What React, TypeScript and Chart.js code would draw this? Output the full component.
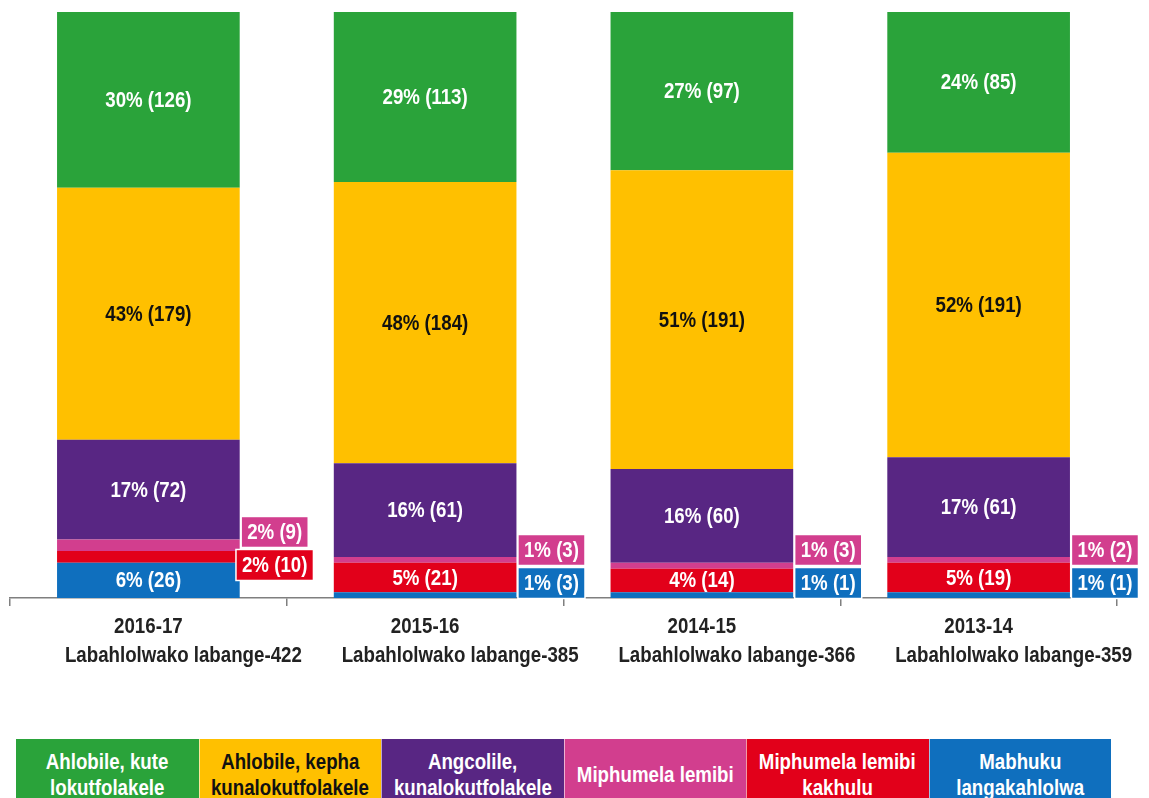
import React, { useEffect, useRef } from "react";
import { Chart, registerables } from "chart.js";

Chart.register(...registerables);

// ---------- data ----------
const categories = ["2016-17", "2015-16", "2014-15", "2013-14"];
const reviewedLabels = [
  "Labahlolwako labange-422",
  "Labahlolwako labange-385",
  "Labahlolwako labange-366",
  "Labahlolwako labange-359",
];

// counts per series (bottom of stack first)
const mabhukuCounts = [26, 3, 1, 1];
const kakhuluCounts = [10, 21, 14, 19];
const lemibiCounts = [9, 3, 3, 2];
const angcolileCounts = [72, 61, 60, 61];
const kephaCounts = [179, 184, 191, 191];
const kuteCounts = [126, 113, 97, 85];

// percentages (plotted and printed)
const mabhukuPct = [6, 1, 1, 1];
const kakhuluPct = [2, 5, 4, 5];
const lemibiPct = [2, 1, 1, 1];
const angcolilePct = [17, 16, 16, 17];
const kephaPct = [43, 48, 51, 52];
const kutePct = [30, 29, 27, 24];

const seriesNames = [
  "Mabhuku langakahlolwa",
  "Miphumela lemibi kakhulu",
  "Miphumela lemibi",
  "Angcolile, kunalokutfolakele",
  "Ahlobile, kepha kunalokutfolakele",
  "Ahlobile, kute lokutfolakele",
];
const legendLines = [
  ["Mabhuku", "langakahlolwa"],
  ["Miphumela lemibi", "kakhulu"],
  ["Miphumela lemibi"],
  ["Angcolile,", "kunalokutfolakele"],
  ["Ahlobile, kepha", "kunalokutfolakele"],
  ["Ahlobile, kute", "lokutfolakele"],
];

const seriesCounts = [mabhukuCounts, kakhuluCounts, lemibiCounts, angcolileCounts, kephaCounts, kuteCounts];
const seriesPct = [mabhukuPct, kakhuluPct, lemibiPct, angcolilePct, kephaPct, kutePct];

// ---------- style ----------
const colors = ["#0f6fbe", "#e2001a", "#d23e8e", "#582683", "#ffc000", "#2aa33a"];
const textColors = ["#ffffff", "#ffffff", "#ffffff", "#ffffff", "#111111", "#ffffff"];
const FONT = "'Liberation Sans', Arial, sans-serif";
const FONT_SIZE = 22;
const SQUEEZE = 0.85;

function drawText(ctx: CanvasRenderingContext2D, text: string, x: number, y: number) {
  ctx.save();
  ctx.translate(x, y);
  ctx.scale(SQUEEZE, 1);
  ctx.fillText(text, 0, 0);
  ctx.restore();
}

const labelPlugin = {
  id: "segLabels",
  afterDatasetsDraw(chart: any) {
    const ctx = chart.ctx as CanvasRenderingContext2D;
    const axisY = chart.chartArea.bottom;
    ctx.save();
    ctx.font = `bold ${FONT_SIZE}px ${FONT}`;
    ctx.textAlign = "center";
    ctx.textBaseline = "middle";
    for (let j = 0; j < categories.length; j++) {
      let prev = Infinity;
      chart.data.datasets.forEach((_: any, i: number) => {
        const el = chart.getDatasetMeta(i).data[j];
        const { x, y, base, width } = el.getProps(["x", "y", "base", "width"], true);
        const top = Math.min(y, base);
        const bot = Math.max(y, base);
        const h = bot - top;
        const text = `${seriesPct[i][j]}% (${seriesCounts[i][j]})`;
        if (h >= 18) {
          ctx.fillStyle = textColors[i];
          drawText(ctx, text, x, (top + bot) / 2 + 1);
        } else {
          const cy = Math.min((top + bot) / 2 + 8, axisY - 15, prev - 33);
          prev = cy;
          const tw = ctx.measureText(text).width * SQUEEZE;
          const bw = tw + 12;
          const bh = 31;
          const cx = x + width / 2 + 35;
          ctx.fillStyle = colors[i];
          ctx.fillRect(cx - bw / 2, cy - bh / 2, bw, bh);
          ctx.strokeStyle = "#ffffff";
          ctx.lineWidth = 1.5;
          ctx.strokeRect(cx - bw / 2, cy - bh / 2, bw, bh);
          ctx.fillStyle = "#ffffff";
          drawText(ctx, text, cx, cy + 1);
        }
      });
    }
    // category labels
    const xs = chart.scales.x;
    ctx.fillStyle = "#222222";
    ctx.textBaseline = "alphabetic";
    categories.forEach((c, j) => {
      const px = xs.getPixelForValue(j);
      drawText(ctx, c, px, axisY + 35);
      drawText(ctx, reviewedLabels[j], px + 35, axisY + 64);
    });
    ctx.restore();
  },
};

export default function App() {
  const ref = useRef<HTMLCanvasElement | null>(null);
  useEffect(() => {
    if (!ref.current) return;
    const chart = new Chart(ref.current, {
      type: "bar",
      data: {
        labels: categories,
        datasets: seriesNames.map((name, i) => ({
          label: name,
          data: seriesPct[i],
          backgroundColor: colors[i],
          borderWidth: 0,
          categoryPercentage: 1,
          barPercentage: 0.66,
        })),
      },
      options: {
        responsive: false,
        animation: false,
        layout: { padding: { left: 10, right: 32, top: 12, bottom: 94 } },
        plugins: { legend: { display: false }, tooltip: { enabled: false } },
        scales: {
          x: {
            stacked: true,
            grid: { drawOnChartArea: false, drawTicks: true, tickLength: 8, color: "#7f7f7f", lineWidth: 1.5, offset: true },
            border: { display: true, color: "#7f7f7f", width: 1.5 },
            ticks: { display: false },
          },
          y: {
            stacked: true,
            display: false,
            min: 0,
            max: 100,
          },
        },
      },
      plugins: [labelPlugin],
    });
    return () => chart.destroy();
  }, []);

  const legendOrder = [5, 4, 3, 2, 1, 0];
  return (
    <div style={{ position: "fixed", left: 0, top: 0, width: 1149, height: 798, overflow: "hidden", background: "#fff" }}>
      <canvas ref={ref} width={1149} height={700} style={{ position: "absolute", left: 0, top: 0 }} />
      {legendOrder.map((i, k) => (
        <div
          key={i}
          style={{
            position: "absolute",
            left: 16 + k * 182.5,
            top: 739,
            width: 182.5,
            height: 72,
            boxSizing: "border-box",
            background: colors[i],
            color: textColors[i],
            borderLeft: k > 0 ? "1px solid rgba(255,255,255,0.6)" : "none",
            fontFamily: FONT,
            fontWeight: "bold",
            fontSize: FONT_SIZE,
            lineHeight: "26px",
            display: "flex",
            flexDirection: "column",
            justifyContent: "center",
            alignItems: "center",
            textAlign: "center",
            whiteSpace: "nowrap",
          }}
        >
          {legendLines[i].map((l, n) => (
            <div key={n} style={{ transform: `scaleX(${SQUEEZE})` }}>{l}</div>
          ))}
        </div>
      ))}
    </div>
  );
}
